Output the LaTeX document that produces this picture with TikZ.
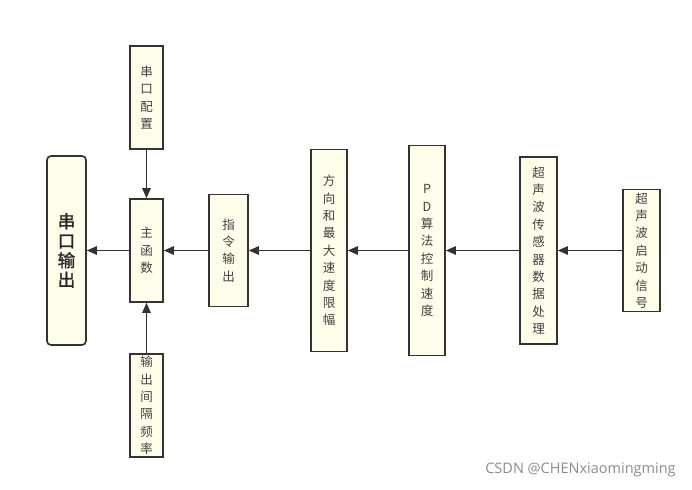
\documentclass[tikz,border=0pt]{standalone}
\usepackage{fontspec}
\setmainfont{Open Sans}
\newfontfamily\cjk{Noto Sans CJK SC}
\newfontfamily\cjkb{Noto Sans CJK SC}[FakeBold=1.5]
\usetikzlibrary{arrows.meta}
\definecolor{boxfill}{HTML}{FEFEEA}
\definecolor{edge}{HTML}{333333}
\definecolor{txt}{HTML}{404040}
\begin{document}
\begin{tikzpicture}[x=1pt,y=-1pt,
  box/.style={draw=edge, line width=1.7pt, fill=boxfill, inner sep=0pt, align=center,
    font=\cjk\fontsize{12.5}{17.4}\selectfont, text=txt},
  arr/.style={draw=edge, line width=1.4pt, -{Triangle[length=10pt,width=8.5pt]}}]
\useasboundingbox[fill=white] (0,0) rectangle (692,489);
\node[box, rounded corners=4pt, minimum width=39pt, minimum height=189pt,
  font=\cjkb\fontsize{17.5}{19.5}\selectfont, text=black!85] (out) at (66.5,250.5) {串\\口\\输\\出};
\node[box, minimum width=33pt, minimum height=103pt] (cfg) at (146.5,97.5) {串\\口\\配\\置};
\node[box, minimum width=33pt, minimum height=103pt] (main) at (146.5,250.5) {主\\函\\数};
\node[box, minimum width=33pt, minimum height=103pt] (freq) at (146.5,405.5) {输\\出\\间\\隔\\频\\率};
\node[box, minimum width=39pt, minimum height=112pt] (cmd) at (228.5,250.5) {指\\令\\输\\出};
\node[box, minimum width=36pt, minimum height=202pt] (lim) at (329,250.5) {方\\向\\和\\最\\大\\速\\度\\限\\幅};
\node[box, minimum width=36pt, minimum height=210pt] (pd) at (427,250.5) {P\\D\\算\\法\\控\\制\\速\\度};
\node[box, minimum width=37pt, minimum height=187pt] (us) at (538.5,250.5) {超\\声\\波\\传\\感\\器\\数\\据\\处\\理};
\node[box, minimum width=37pt, minimum height=122pt] (sig) at (641.5,250.5) {超\\声\\波\\启\\动\\信\\号};
\draw[arr] (cfg) -- (main);
\draw[arr] (freq) -- (main);
\draw[arr] (main) -- (out);
\draw[arr] (cmd) -- (main);
\draw[arr] (lim) -- (cmd);
\draw[arr] (pd) -- (lim);
\draw[arr] (us) -- (pd);
\draw[arr] (sig) -- (us);
\node[font=\fontsize{14.5}{14.5}\selectfont, text=black!45, inner sep=0pt] (wm) at (580.5,470) {CSDN @CHENxiaomingming};
\end{tikzpicture}
\end{document}
